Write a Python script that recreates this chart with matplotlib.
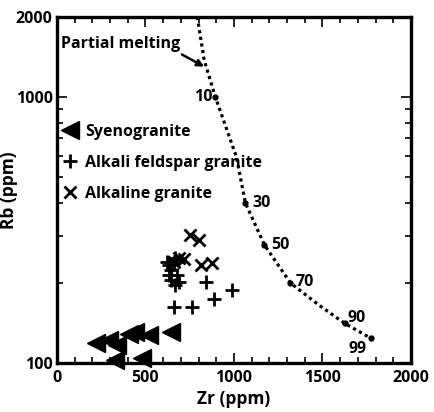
import numpy as np
import matplotlib.pyplot as plt
from matplotlib.ticker import NullFormatter, FixedLocator

plt.rcParams["font.family"] = ["Open Sans", "DejaVu Sans"]
plt.rcParams["font.weight"] = "bold"

# Syenogranite (Zr, Rb in ppm)
syeno_zr = [221, 294, 340, 442, 521, 645, 328, 481, 410]
syeno_rb = [119, 122, 117, 131, 127, 131, 103, 104, 128]

# Alkali feldspar granite
afg_zr = [844, 889, 991, 662, 764, 634, 662, 645, 680, 645, 691, 634, 668, 623, 670]
afg_rb = [202, 174, 188, 162, 162, 233, 240, 223, 214, 205, 202, 214, 248, 240, 196]

# Alkaline granite
alk_zr = [753, 804, 815, 878, 691, 662, 719]
alk_rb = [303, 290, 234, 238, 248, 240, 245]

# partial melting curve
melt_zr = [793, 832, 895, 1014, 1065, 1172, 1319, 1480, 1625, 1772]
melt_rb = [2000, 1377, 1000, 595, 399, 278, 200, 165, 141, 124]

# labelled melting steps (%)
step_labels = ["10", "30", "50", "70", "90", "99"]
step_zr = [895, 1065, 1172, 1319, 1625, 1772]
step_rb = [1000, 399, 278, 200, 141, 124]

FS = 11.5

fig = plt.figure(figsize=(4.34, 4.12), dpi=100)
ax = fig.add_axes([0.131, 0.119, 0.816, 0.840])

ax.plot(melt_zr, melt_rb, color="black", linestyle=(0, (1, 1.1)), lw=2.3)
ax.plot(step_zr, step_rb, "o", color="black", ms=3.5)

ax.plot(syeno_zr, syeno_rb, "<", color="black", ms=13, ls="none",
        clip_on=False, label="Syenogranite")
ax.plot(afg_zr, afg_rb, "+", color="black", ms=10, mew=2, ls="none",
        label="Alkali feldspar granite")
ax.plot(alk_zr, alk_rb, "x", color="black", ms=9, mew=2, ls="none",
        label="Alkaline granite")

# step labels
offs = {"10": (-2, 0, "right", "center"), "30": (5, 0, "left", "center"),
        "50": (5, 0, "left", "center"), "70": (4, 1, "left", "center"),
        "90": (2, 4, "left", "center"), "99": (-3, -8, "right", "center")}
for lab, zx, ry in zip(step_labels, step_zr, step_rb):
    dx, dy, ha, va = offs[lab]
    ax.annotate(lab, (zx, ry), xytext=(dx, dy), textcoords="offset points",
                ha=ha, va=va, fontsize=FS, fontweight="bold")

ax.annotate("Partial melting", xy=(832, 1300), xytext=(25, 1480),
            fontsize=FS, fontweight="bold", ha="left", va="bottom",
            arrowprops=dict(arrowstyle="-|>", color="black", lw=1.8,
                            shrinkA=0, shrinkB=0, mutation_scale=10,
                            relpos=(0.97, 0.0)))

ax.set_yscale("log")
ax.set_xlim(0, 2000)
ax.set_ylim(100, 2000)
ax.set_xticks([0, 500, 1000, 1500, 2000])
ax.xaxis.set_minor_locator(FixedLocator(np.arange(0, 2001, 100)))
ax.set_yticks([100, 1000, 2000])
ax.set_yticklabels(["100", "1000", "2000"])
ax.yaxis.set_minor_locator(FixedLocator([200, 300, 400, 500, 600, 700, 800, 900]))
ax.yaxis.set_minor_formatter(NullFormatter())

ax.tick_params(which="both", direction="in", top=True, right=True,
               labelsize=FS, width=1.2)
ax.tick_params(which="major", length=7)
ax.tick_params(which="minor", length=4)
ax.tick_params(axis="x", pad=5)
ax.tick_params(axis="y", pad=3)
for lbl in ax.get_xticklabels() + ax.get_yticklabels():
    lbl.set_fontweight("bold")
for sp in ax.spines.values():
    sp.set_linewidth(2.4)

ax.set_xlabel("Zr (ppm)", fontsize=12.5, fontweight="bold", labelpad=3)
ax.set_ylabel("Rb (ppm)", fontsize=12.5, fontweight="bold")
ax.yaxis.set_label_coords(-0.11, 0.5)

ax.legend(loc="upper left", bbox_to_anchor=(-0.01, 0.71), frameon=False,
          handletextpad=0.3, labelspacing=0.95, handlelength=1.3,
          borderaxespad=0, prop={"weight": "bold", "size": FS})

fig.savefig("out.png", dpi=100)
